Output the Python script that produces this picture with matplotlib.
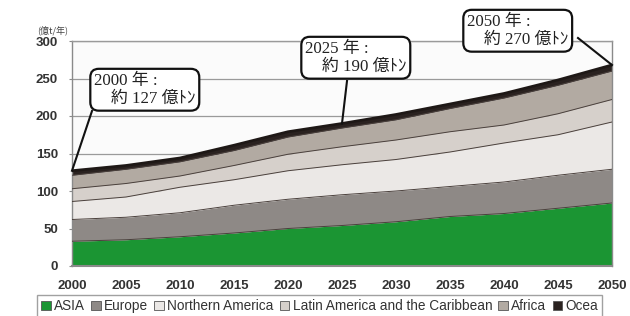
import matplotlib
matplotlib.use("Agg")
import matplotlib.pyplot as plt
from matplotlib.patches import Patch
from matplotlib.ticker import MultipleLocator
import numpy as np

years = [2000, 2005, 2010, 2015, 2020, 2025, 2030, 2035, 2040, 2045, 2050]
asia = [33, 35, 39, 44, 50, 54, 59, 66, 70, 77, 84]
europe = [29, 30, 32, 37, 39, 41, 41, 40, 42, 44, 45]
n_america = [24, 27, 34, 34, 38, 40, 42, 46, 52, 54, 63]
latin_america = [17, 18, 15, 19, 22, 24, 26, 27, 24, 28, 30]
africa = [18, 19, 19, 20, 23, 25, 27, 31, 36, 38, 38]
oceania = [6, 5, 5, 7, 7, 6, 7, 6, 6, 7, 8]

series_names = ["ASIA", "Europe", "Northern America",
                "Latin America and the Caribbean", "Africa", "Ocea"]
colors = ["#1b9533", "#8e8986", "#ebe8e6", "#d6d0cb", "#b2aaa2", "#2a2220"]

annotations = [
    (2000, "2000 年 :\n　約 127 億ﾄﾝ"),
    (2025, "2025 年 :\n　約 190 億ﾄﾝ"),
    (2050, "2050 年 :\n　約 270 億ﾄﾝ"),
]
box_pos = [(89, 112), (300, 80), (462, 53)]  # pixel positions of box bottom-left (layout)

W, H = 630, 316
fig = plt.figure(figsize=(W / 100, H / 100), dpi=100)
fig.patch.set_facecolor("white")
ax = fig.add_axes([72 / W, 1 - 266 / H, 540 / W, 225 / H])
ax.set_facecolor("#fbfbfb")

data = [asia, europe, n_america, latin_america, africa, oceania]
cum = np.cumsum(np.array(data, dtype=float), axis=0)
x = np.array(years, dtype=float)
bottom = np.zeros_like(x)
for i, (top, c) in enumerate(zip(cum, colors)):
    ax.fill_between(x, bottom, top, color=c, lw=0, zorder=2)
    if i < len(cum) - 1:
        ax.plot(x, top, color="#4a403c", lw=0.7, zorder=3)
    bottom = top
ax.plot(x, cum[-1], color="#1e1816", lw=2.0, zorder=3)

ax.set_xlim(2000, 2050)
ax.set_ylim(0, 300)
ax.yaxis.set_major_locator(MultipleLocator(50))
ax.xaxis.set_major_locator(MultipleLocator(5))
ax.xaxis.set_minor_locator(MultipleLocator(1))
ax.grid(axis="y", color="#9a9a9a", lw=0.9, zorder=1)
ax.set_axisbelow(True)
for s in ax.spines.values():
    s.set_color("#8a8a8a")
    s.set_linewidth(1.0)
ax.spines["bottom"].set_linewidth(1.5)
ax.spines["top"].set_color("#9a9a9a")

ax.tick_params(axis="x", which="both", direction="in", length=3, color="#777777",
               pad=10, labelsize=9.5)
ax.tick_params(axis="y", direction="out", length=2, color="#8a8a8a", pad=8, labelsize=9.5)
for lab in ax.get_xticklabels() + ax.get_yticklabels():
    lab.set_fontfamily("Liberation Sans")
    lab.set_fontweight("bold")
    lab.set_color("#333333")

fig.text(37 / W, 1 - 30 / H, "(億t/年)", fontsize=6.5, color="#444444",
         family=["Noto Sans CJK JP"], va="center", ha="left")

# annotations
for (yr, txt), (bx, by) in zip(annotations, box_pos):
    fig.text(bx / W + 0.008, 1 - by / H + 0.016, txt, fontsize=12.2,
             family=["Liberation Serif", "Noto Sans CJK JP"], color="#222222",
             ha="left", va="bottom", linespacing=1.2, zorder=10,
             bbox=dict(boxstyle="round,pad=0.22,rounding_size=0.5",
                       fc="white", ec="#111111", lw=1.6))

# pointer lines (figure pixel coords -> data)
def pix_to_data(px, py):
    disp = fig.transFigure.transform((px / W, 1 - py / H))
    return ax.transData.inverted().transform(disp)

starts = [(92, 111), (347, 81), (578, 38)]
for (yr, _), (sx, sy) in zip(annotations, starts):
    idx = years.index(yr)
    sxd, syd = pix_to_data(sx, sy)
    ax.plot([sxd, yr], [syd, cum[-1][idx]], color="#111111", lw=1.5,
            clip_on=False, zorder=9)

handles = [Patch(facecolor=c, edgecolor="#555555", lw=0.6) for c in colors]
leg = fig.legend(handles, series_names, loc="upper left",
                 bbox_to_anchor=(37 / W, 1 - 295 / H), ncol=6, frameon=True,
                 fancybox=False, edgecolor="#8a8a8a", handlelength=0.7,
                 handleheight=0.7, handletextpad=0.25, columnspacing=0.45,
                 borderpad=0.3, borderaxespad=0,
                 prop={"family": "Liberation Sans", "size": 9.8})
for t in leg.get_texts():
    t.set_color("#333333")

fig.savefig("out.png", dpi=100)
